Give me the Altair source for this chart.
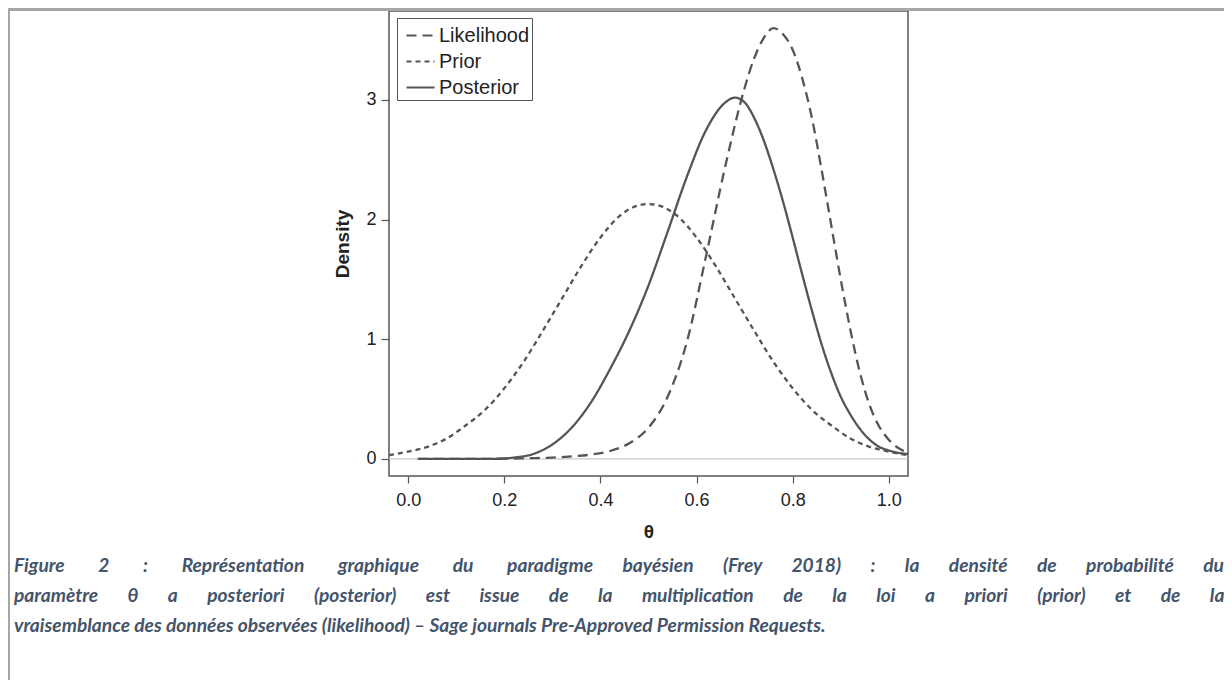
import altair as alt
import pandas as pd

# ---- data ----
prior_theta = [-0.04, 0.0, 0.04, 0.08, 0.12, 0.16, 0.20, 0.24, 0.28, 0.32, 0.36, 0.40, 0.44, 0.48, 0.50,
               0.52, 0.56, 0.60, 0.64, 0.68, 0.72, 0.76, 0.80, 0.84, 0.88, 0.92, 0.96, 1.00, 1.04]
prior_density = [0.03, 0.06, 0.10, 0.17, 0.28, 0.41, 0.59, 0.81, 1.07, 1.34, 1.61, 1.85, 2.03, 2.12, 2.13,
                 2.12, 2.03, 1.85, 1.61, 1.34, 1.07, 0.81, 0.59, 0.41, 0.28, 0.17, 0.10, 0.06, 0.03]

lik_theta = [0.02, 0.06, 0.10, 0.14, 0.18, 0.22, 0.26, 0.30, 0.34, 0.38, 0.42, 0.46, 0.50, 0.54, 0.58,
             0.62, 0.66, 0.70, 0.72, 0.74, 0.76, 0.78, 0.80, 0.82, 0.84, 0.86, 0.88, 0.90, 0.92, 0.94,
             0.96, 0.98, 1.00, 1.02, 1.04]
lik_density = [0.0, 0.0, 0.0, 0.0, 0.0, 0.002, 0.005, 0.01, 0.02, 0.035, 0.065, 0.13, 0.26, 0.52, 0.98,
               1.70, 2.45, 3.10, 3.35, 3.52, 3.60, 3.55, 3.42, 3.18, 2.85, 2.42, 1.96, 1.50, 1.08, 0.72,
               0.45, 0.27, 0.16, 0.09, 0.05]

post_theta = [0.02, 0.06, 0.10, 0.14, 0.18, 0.22, 0.26, 0.30, 0.34, 0.38, 0.42, 0.46, 0.50, 0.54, 0.58,
              0.62, 0.66, 0.68, 0.70, 0.72, 0.74, 0.76, 0.78, 0.80, 0.82, 0.84, 0.86, 0.88, 0.90, 0.92,
              0.94, 0.96, 0.98, 1.00, 1.02, 1.04]
post_density = [0.0, 0.0, 0.0, 0.0, 0.0, 0.01, 0.04, 0.12, 0.26, 0.47, 0.75, 1.07, 1.45, 1.90, 2.36,
                2.75, 2.98, 3.02, 2.98, 2.85, 2.66, 2.42, 2.15, 1.85, 1.54, 1.24, 0.96, 0.72, 0.52, 0.37,
                0.25, 0.16, 0.10, 0.07, 0.05, 0.04]

series_names = ["Likelihood", "Prior", "Posterior"]
x_ticks = [0.0, 0.2, 0.4, 0.6, 0.8, 1.0]
y_ticks = [0, 1, 2, 3]

caption_lines = [
    "Figure 2 : Représentation graphique du paradigme bayésien (Frey 2018) : la densité de probabilité du",
    "paramètre θ a posteriori (posterior) est issue de la multiplication de la loi a priori (prior) et de la",
    "vraisemblance des données observées (likelihood) – Sage journals Pre-Approved Permission Requests.",
]
# number of no-break spaces used to justify each caption line (last line is not justified)
caption_fill = [111, 126, None]


def justify(line, total):
    words = line.split(" ")
    if total is None:
        return line
    gaps = len(words) - 1
    base, extra = divmod(total, gaps)
    out = words[0]
    for i, w in enumerate(words[1:]):
        n = base + (1 if i < extra else 0)
        out += "\u00a0" * n + w
    return out


# ---- tables ----
rows = []
for t, d in zip(lik_theta, lik_density):
    rows.append({"theta": t, "density": d, "series": "Likelihood"})
for t, d in zip(prior_theta, prior_density):
    rows.append({"theta": t, "density": d, "series": "Prior"})
for t, d in zip(post_theta, post_density):
    rows.append({"theta": t, "density": d, "series": "Posterior"})
df = pd.DataFrame(rows)

W, H = 519, 465
INK = "#555555"
FONT = "Liberation Sans"

xscale = alt.Scale(domain=[-0.04, 1.04], nice=False, zero=False)
yscale = alt.Scale(domain=[-0.144, 3.744], nice=False, zero=False)

x_axis = alt.Axis(values=x_ticks, format=".1f", title="θ", grid=False, domain=False,
                  tickSize=7, tickColor=INK, tickWidth=1.2, labelPadding=8,
                  labelFont=FONT, labelFontSize=18, labelColor="#222",
                  titleFont=FONT, titleFontSize=19, titleFontWeight="bold",
                  titleColor="#222", titlePadding=13)
y_axis = alt.Axis(values=y_ticks, format="d", title="Density", grid=False, domain=False,
                  tickSize=8, tickColor=INK, tickWidth=1.2, labelPadding=5,
                  labelFont=FONT, labelFontSize=18, labelColor="#222",
                  titleFont=FONT, titleFontSize=19, titleFontWeight="bold",
                  titleColor="#222", titlePadding=13)

zero_line = alt.Chart(pd.DataFrame({"theta": [0.5], "density": [0.0]})).mark_rule(
    color="#c8c8c8", strokeWidth=1.3
).encode(y=alt.Y("density:Q", scale=yscale, axis=y_axis))

curves = alt.Chart(df).mark_line(
    color=INK, strokeWidth=2.3, interpolate="monotone"
).encode(
    x=alt.X("theta:Q", scale=xscale, axis=x_axis),
    y=alt.Y("density:Q", scale=yscale, axis=y_axis),
    strokeDash=alt.StrokeDash(
        "series:N",
        scale=alt.Scale(domain=series_names, range=[[10, 6], [5, 4], [1, 0]]),
        legend=alt.Legend(title=None, orient="none", legendX=8, legendY=7,
                          strokeColor=INK, fillColor="white", padding=2, cornerRadius=0,
                          symbolType="stroke", symbolSize=784, symbolStrokeWidth=2.2,
                          symbolOffset=6, symbolStrokeColor=INK,
                          labelFont=FONT, labelFontSize=20, labelColor="#222",
                          labelOffset=3, rowPadding=0,
                          labelExpr="datum.label + '\u00a0'"),
    ),
    detail="series:N",
)

# figure frame (grey border of the page)
frame_top = alt.Chart(pd.DataFrame({"k": [0]})).mark_rect(color="#a6a6a6").encode(
    x=alt.value(-381), x2=alt.value(835), y=alt.value(-3), y2=alt.value(0))
frame_left = alt.Chart(pd.DataFrame({"k": [0]})).mark_rect(color="#a6a6a6").encode(
    x=alt.value(-381), x2=alt.value(-379), y=alt.value(-3), y2=alt.value(680))

caption_layers = []
for i, (line, fill) in enumerate(zip(caption_lines, caption_fill)):
    caption_layers.append(
        alt.Chart(pd.DataFrame({"line": [justify(line, fill)]})).mark_text(
            align="left", baseline="middle", font="Lato", fontSize=19.2, fontStyle="italic",
            fontWeight="bold", color="#44546A"
        ).encode(x=alt.value(-375), y=alt.value(555 + 30 * i), text="line:N")
    )

chart = alt.layer(zero_line, curves, frame_top, frame_left, *caption_layers).properties(
    width=W, height=H,
    background="white",
    autosize=alt.AutoSizeParams(type="none"),
    padding={"left": 381, "top": 3, "right": 316, "bottom": 204},
).configure_view(stroke=INK, strokeWidth=1.5, strokeOpacity=1)

chart.save("out.html", embed_options={"renderer": "svg", "actions": False})
